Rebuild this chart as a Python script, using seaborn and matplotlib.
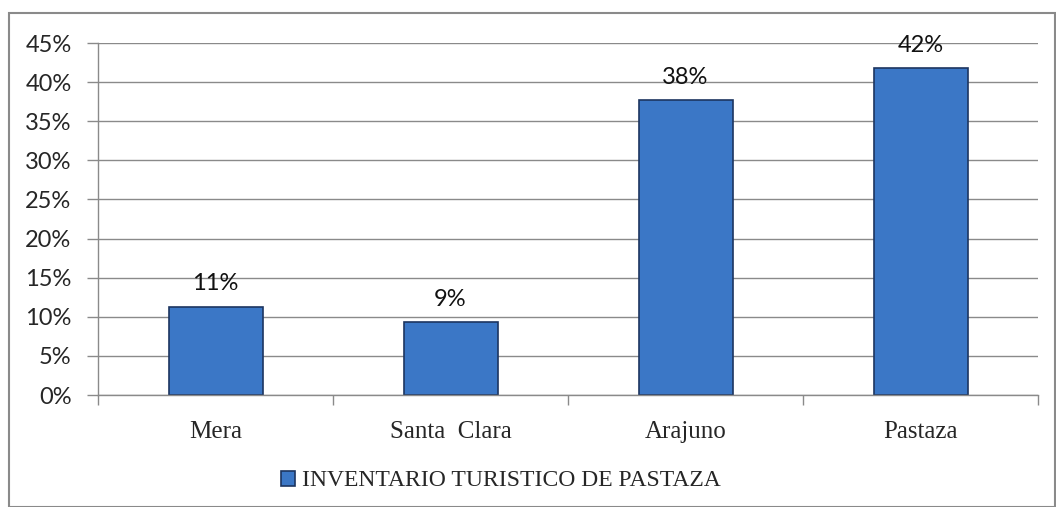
import numpy as np
import pandas as pd
import matplotlib
matplotlib.use('Agg')
import matplotlib.pyplot as plt
import seaborn as sns
from matplotlib.patches import Rectangle
from matplotlib.ticker import FixedLocator

cantones = ['Mera', 'Santa  Clara', 'Arajuno', 'Pastaza']
porcentaje = [11.3, 9.3, 37.7, 41.8]
etiquetas = ['11%', '9%', '38%', '42%']
serie = 'INVENTARIO TURISTICO DE PASTAZA'
yticks = [0, 5, 10, 15, 20, 25, 30, 35, 40, 45]

df = pd.DataFrame({'canton': cantones, 'pct': porcentaje})

sns.set_style('white')
plt.rcParams['font.family'] = ['Lato', 'DejaVu Sans']

fig = plt.figure(figsize=(10.56, 5.07), dpi=100)
ax = fig.add_axes([98/1056, 1-395/507, (1038-98)/1056, (395-43)/507])

sns.barplot(data=df, x='canton', y='pct', color='#3b77c6', width=0.4,
            edgecolor='#1c3560', linewidth=1.2, saturation=1, ax=ax, label=serie)

ax.bar_label(ax.containers[0], labels=etiquetas, padding=9, fontsize=17,
             family='Lato', color='#111111')

ax.set_ylim(0, 45)
ax.set_xlim(-0.5, 3.5)
ax.set_yticks(yticks)
ax.set_yticklabels([f'{v}%' for v in yticks], fontsize=17)
ax.yaxis.grid(True, color='#8a8a8a', linewidth=1)
ax.set_axisbelow(True)
ax.tick_params(axis='y', length=8, width=1, color='#8a8a8a', pad=11, direction='out', left=True)

ax.set_xticks(range(len(cantones)))
ax.set_xticklabels(cantones, fontsize=18, family='Liberation Serif')
ax.tick_params(axis='x', length=0, pad=19)
ax.xaxis.set_minor_locator(FixedLocator(np.arange(-0.5, 4, 1)))
ax.tick_params(axis='x', which='minor', length=7, width=1, color='#8a8a8a', direction='out', bottom=True)
ax.set_xlabel('')
ax.set_ylabel('')

for s in ['top', 'right']:
    ax.spines[s].set_visible(False)
for s in ['left', 'bottom']:
    ax.spines[s].set_color('#8a8a8a')
    ax.spines[s].set_linewidth(1)

leg = ax.legend(loc='center', bbox_to_anchor=(501/1056, 1-481/507), bbox_transform=fig.transFigure,
                frameon=False, prop={'family': 'Liberation Serif', 'size': 17},
                handlelength=0.6, handleheight=0.6, handletextpad=0.3)

fig.patches.append(Rectangle((9/1056, 0), (1055-9)/1056, 1-13/507, transform=fig.transFigure,
                             fill=False, edgecolor='#8a8a8a', linewidth=1.5))

fig.savefig('out.png', dpi=100)
